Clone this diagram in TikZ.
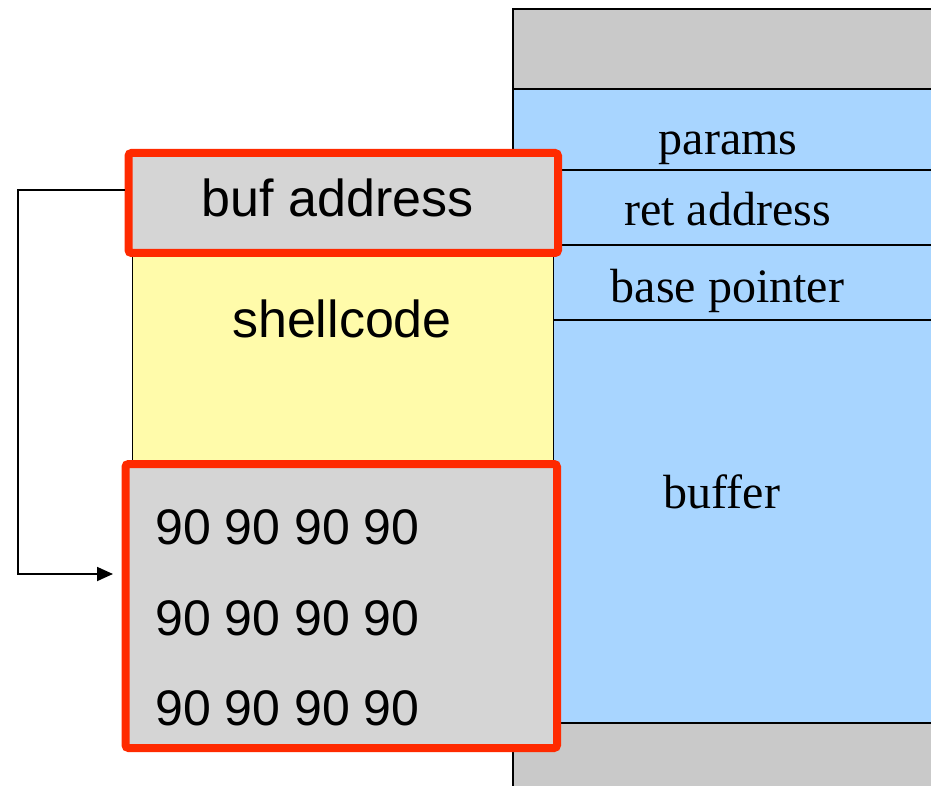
\documentclass[tikz,border=0pt]{standalone}
\usepackage{fontspec}
\setmainfont{Liberation Serif}
\setsansfont{Liberation Sans}
\usetikzlibrary{arrows.meta}
\usepackage{xcolor}
\definecolor{stackgray}{RGB}{201,201,201}
\definecolor{stackblue}{RGB}{168,213,255}
\definecolor{payloadgray}{RGB}{213,213,213}
\definecolor{codeyellow}{RGB}{255,251,170}
\definecolor{hilitered}{RGB}{255,42,0}

\begin{document}
\begin{tikzpicture}[x=1pt,y=-1pt,>={Triangle[length=16pt,width=14pt]},
  cell/.style={draw=black,line width=1.5pt,inner sep=0pt,outer sep=0pt,anchor=north west,minimum width=520pt},
  redbox/.style={draw=hilitered,line width=8pt,fill=payloadgray,rounded corners=3pt,inner sep=0pt,outer sep=0pt,anchor=north west},
  seriflabel/.style={anchor=base,inner sep=0pt,font=\fontsize{48}{57}\selectfont},
  sanslabel/.style={anchor=base,inner sep=0pt,font=\sffamily\fontsize{52}{62}\selectfont},
  noplabel/.style={sanslabel,font=\sffamily\fontsize{50}{60}\selectfont},
  jump/.style={->,line width=1.8pt}]
  \useasboundingbox (0,0) rectangle (931,786);
  \clip (0,0) rectangle (931,786);

  % the stack frame on the right
  \node[cell,fill=stackgray,minimum height=80pt] (top) at (513,9) {};
  \node[cell,fill=stackblue,minimum height=81pt] (params) at (513,89) {};
  \node[cell,fill=stackblue,minimum height=75pt] (ret) at (513,170) {};
  \node[cell,fill=stackblue,minimum height=75pt] (base) at (513,245) {};
  \node[cell,fill=stackblue,minimum height=403pt] (buffer) at (513,320) {};
  \node[cell,fill=stackgray,minimum height=80pt] (bottom) at (513,723) {};

  \foreach \name/\x/\y/\lab in {
    paramslab/728/155/{params},
    retlab/727.5/226/{ret address},
    baselab/727.5/302/{base pointer},
    bufferlab/722/508/{buffer}
  } {
    \node[seriflabel] (\name) at (\x,\y) {\lab};
  }

  % the injected payload
  \node[draw=black,line width=1pt,fill=codeyellow,inner sep=0pt,outer sep=0pt,anchor=north west,
    minimum width=421pt,minimum height=210pt] (shellcode) at (132,253) {};
  \node[sanslabel] (codelab) at (342,337) {shellcode};

  \node[redbox,minimum width=429.5pt,minimum height=100pt] (bufaddr) at (128.5,153) {};
  \node[sanslabel] (addrlab) at (337.5,217) {buf address};

  \node[redbox,minimum width=431.5pt,minimum height=284pt] (nops) at (125.5,464) {};
  \foreach \y [count=\i] in {544,635,725}
    \node[noplabel] (nop\i) at (287.5,\y) {90 90 90 90};

  % return address points back into the nop sled
  \coordinate (hook) at (18,190);
  \coordinate (land) at (113,574);
  \draw[jump,shorten <=4pt] (bufaddr.west |- hook) -- (hook) |- (land);
\end{tikzpicture}
\end{document}
